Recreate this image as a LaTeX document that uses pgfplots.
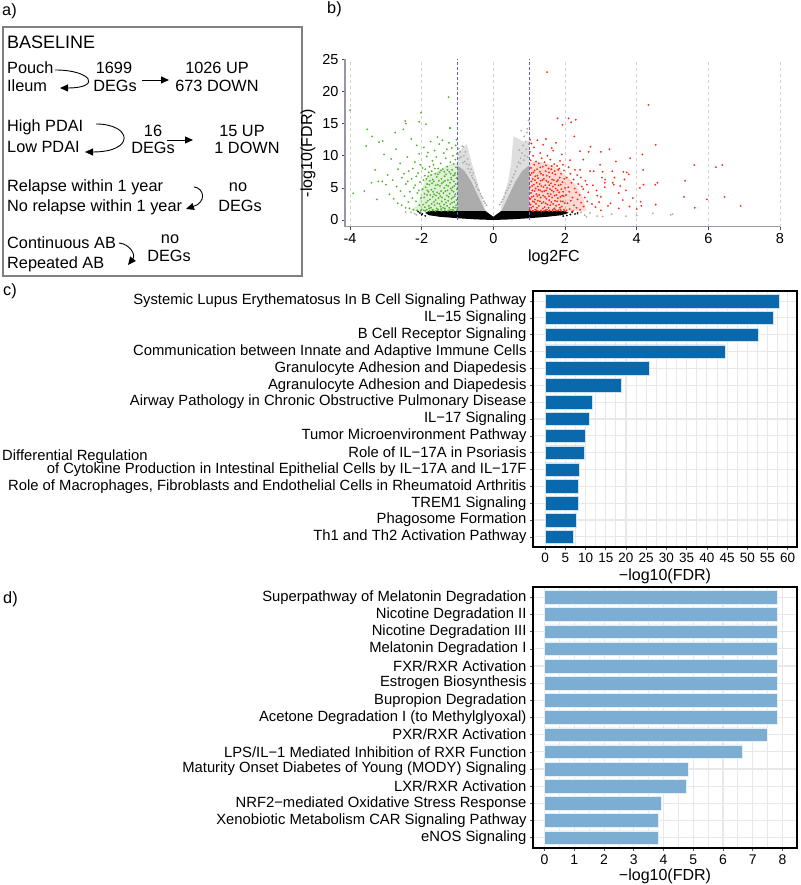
\documentclass[border=0pt]{standalone}
\usepackage{fontspec}
\setmainfont{Liberation Sans}
\usepackage{pgfplots}
\pgfplotsset{compat=1.18}
\usetikzlibrary{arrows.meta}
\definecolor{barC}{RGB}{10,104,172}
\definecolor{barD}{RGB}{124,174,212}
\definecolor{gridc}{RGB}{232,232,232}
\definecolor{vgreen}{RGB}{80,176,40}
\definecolor{vred}{RGB}{245,40,15}
\definecolor{vgrey}{RGB}{172,172,172}
\definecolor{vblue}{RGB}{100,100,200}
\definecolor{axgrey}{RGB}{150,150,165}
\newcommand\fs[1]{\fontsize{#1}{#1}\selectfont}
\pgfplotsset{dots/.style={only marks, mark=*, mark size=0.8pt, line width=0.2pt, color=#1, mark options={solid, draw=#1, fill=#1}}}
\begin{document}
\begin{tikzpicture}[x=1pt,y=1pt]
\useasboundingbox (0,0) rectangle (800,885);
% ---------------- panel a
\begin{scope}[every node/.style={inner sep=0pt, text height=0.72em, text depth=0pt, font=\fs{16.3}}]
\node[anchor=west] at (2,873) {a)};
\node[anchor=west] at (327,875) {b)};
\node[anchor=west] at (3,593) {c)};
\node[anchor=west] at (3,285) {d)};
\draw[gray, line width=1.2pt] (3,858) rectangle (302,609);
\node[anchor=west,font=\fs{18}] at (7,840) {BASELINE};
\node[anchor=west] at (7,815) {Pouch};
\node[anchor=west] at (7,797) {Ileum};
\node at (114,815) {1699};
\node at (115,797) {DEGs};
\node at (217,815) {1026 UP};
\node at (217,797) {673 DOWN};
\node[anchor=west] at (7,757) {High PDAI};
\node[anchor=west] at (7,736) {Low PDAI};
\node at (153,752) {16};
\node at (153,735) {DEGs};
\node at (242,752) {15 UP};
\node at (247,735) {1 DOWN};
\node[anchor=west] at (7,697) {Relapse within 1 year};
\node[anchor=west] at (7,677) {No relapse within 1 year};
\node at (238,697) {no};
\node at (240,677) {DEGs};
\node[anchor=west] at (7,640) {Continuous AB};
\node[anchor=west] at (7,620) {Repeated AB};
\node at (170,645) {no};
\node at (169,627) {DEGs};
\node[anchor=west,font=\fs{14.8}] at (2,428.5) {Differential Regulation};
\end{scope}
\begin{scope}[line width=0.9pt, >={Triangle[length=8pt,width=7pt]}]
\draw[->] (55,815) .. controls (92,815) and (102,797) .. (60,797);
\draw[->] (142,805) -- (169,805);
\draw[->] (96,761) .. controls (132,761) and (136,733) .. (85,733);
\draw[->] (167,745) -- (193,745);
\draw[->] (194,698) .. controls (204,697) and (207,683) .. (186,676);
\draw[->] (119,642) .. controls (130,641) and (136,630) .. (128,620);
\end{scope}
% ---------------- panel b
\begin{axis}[at={(345pt,658.3pt)}, anchor=south west, scale only axis,
  width=435pt, height=167.4pt,
  xmin=-4.14, xmax=8, ymin=-1.04, ymax=25,
  axis x line*=bottom, axis y line*=left,
  axis line style={axgrey, line width=1.3pt, -},
  xtick={-4,-2,...,8}, ytick={0,5,...,25},
  tick align=outside, major tick length=3pt, tick style={black!70, line width=0.7pt},
  xmajorgrids, grid style={dashed, gray!35, line width=0.5pt},
  ticklabel style={font=\fs{14.5}}, /pgf/number format/assume math mode=true,
  xlabel={log2FC}, ylabel={-log10(FDR)}, label style={font=\fs{16}},
  xlabel style={at={(ticklabel cs:0.48)}}, ylabel style={at={(ticklabel cs:0.44)}}]
% density shading of the clouds
\addplot[fill=vgrey, fill opacity=0.4, draw=none] coordinates {(-1,1.3)(-1,10.5)(-0.85,11.2)(-0.74,11.8)(-0.6,8.8)(-0.46,6.2)(-0.28,2.6)(-0.2,1.3)} -- cycle;
\addplot[fill=vgrey, fill opacity=0.4, draw=none] coordinates {(0.2,1.3)(0.23,2.6)(0.42,6.2)(0.5,9.0)(0.56,13.0)(0.75,12.5)(0.9,12.0)(1,12.5)(1,1.3)} -- cycle;
\addplot[fill=vgrey, draw=none] coordinates {(-1,1.3)(-1,8.5)(-0.8,7.6)(-0.62,6.0)(-0.5,4.6)(-0.38,3.2)(-0.28,2.0)(-0.22,1.3)} -- cycle;
\addplot[fill=vgrey, draw=none] coordinates {(0.22,1.3)(0.28,2.0)(0.38,3.2)(0.5,4.6)(0.62,6.0)(0.8,7.6)(1,8.5)(1,1.3)} -- cycle;
\addplot[fill=vgreen, fill opacity=0.18, draw=none] coordinates {(-1,1.4)(-1,9)(-1.3,8.5)(-1.6,7.5)(-1.9,6.5)(-2.0,4.5)(-2.1,2.5)(-2.3,1.4)} -- cycle;
\addplot[fill=vred, fill opacity=0.18, draw=none] coordinates {(1,1.4)(1,9)(1.4,9)(1.8,8)(2.0,7)(2.3,5.5)(2.5,3.5)(2.6,1.4)} -- cycle;
\addplot[fill=black, draw=none] coordinates {(-1.8,1.4)(-0.22,1.4)(0,0.5)(0.22,1.4)(2.0,1.4)(2.1,1.1)(1.9,0.75)(1.5,0.5)(1.0,0.28)(0.5,0.1)(0,0)(-0.5,0.1)(-1.0,0.28)(-1.5,0.5)(-1.8,0.75)(-1.9,1.1)} -- cycle;
\addplot[dots=vgrey] coordinates {
(-0.99,10.2)(-0.97,11.1)(-0.93,10.6)(-0.9,9.8)(-0.87,11.5)(-0.84,11.4)(-0.82,10.0)(-0.8,9.1)(-0.78,10.6)(-0.75,8.7)(-0.72,9.5)(-0.7,8.0)(-0.68,8.6)(-0.65,7.4)(-0.62,7.9)(-0.6,6.9)(-0.56,7.3)(-0.53,6.2)(-0.5,5.8)(-0.46,5.5)(-0.43,4.8)(-0.4,4.6)(-0.36,4.1)(-0.33,3.7)(-0.3,3.4)(-0.26,2.9)(-0.23,2.6)(-0.19,2.3)(-0.95,9.6)(-0.85,8.9)(-0.58,6.5)(-0.48,5.2)
(0.18,2.4)(0.22,2.8)(0.26,3.2)(0.3,3.6)(0.34,4.2)(0.38,4.6)(0.42,5.0)(0.46,5.5)(0.5,6.0)(0.54,6.6)(0.58,7.1)(0.62,7.6)(0.66,8.3)(0.7,9.0)(0.72,10.9)(0.76,9.6)(0.78,13.9)(0.8,10.4)(0.83,11.6)(0.86,13.0)(0.88,10.0)(0.9,12.2)(0.92,11.0)(0.94,13.6)(0.96,9.8)(0.98,15.5)(0.99,11.8)(0.95,14.2)(0.85,9.3)(0.75,8.8)
(-2.2,1.0)(-2.15,0.8)(-2.3,1.2)(-2.45,1.25)(2.35,0.9)(2.45,1.2)(2.55,0.75)(2.7,1.1)(2.9,0.6)(3.05,0.55)(3.3,0.9)(3.7,0.6)(4.0,0.7)(4.45,1.05)(4.95,0.8)(5.0,0.9)(2.2,1.15)(2.6,0.5)};
\addplot[dots=black] coordinates {
(-2.05,1.1)(-1.98,0.95)(2.2,1.25)(2.28,0.95)(2.35,1.1)(-1.9,0.65)(1.95,0.6)(-2.0,0.8)(2.15,0.85)(-2.1,1.3)(2.05,0.7)};
\addplot[dots=vgreen] coordinates {
(-1.02,1.5)(-1.04,2.3)(-1.03,3.1)(-1.06,4.0)(-1.02,4.8)(-1.05,5.6)(-1.03,6.5)(-1.07,7.3)(-1.04,8.2)(-1.06,9.4)(-1.02,10.3)(-1.05,11.6)(-1.03,12.5)
(-1.10,1.4)(-1.12,2.0)(-1.09,2.8)(-1.13,3.5)(-1.11,4.4)(-1.14,5.1)(-1.10,6.0)(-1.12,6.9)(-1.15,7.8)(-1.11,8.7)(-1.13,10.0)(-1.16,11.2)
(-1.18,1.6)(-1.20,2.5)(-1.17,3.3)(-1.22,4.1)(-1.19,4.9)(-1.21,5.8)(-1.18,6.6)(-1.23,7.5)(-1.20,9.0)(-1.24,12.0)(-1.21,14.3)
(-1.27,1.4)(-1.29,2.2)(-1.26,3.0)(-1.30,3.8)(-1.28,4.6)(-1.31,5.4)(-1.27,6.2)(-1.32,7.1)(-1.29,8.3)(-1.33,9.6)(-1.30,11.0)
(-1.36,1.5)(-1.38,2.4)(-1.35,3.2)(-1.39,4.2)(-1.37,5.0)(-1.40,5.9)(-1.36,6.8)(-1.41,7.9)(-1.38,10.4)(-1.42,12.4)
(-1.45,1.4)(-1.47,2.1)(-1.44,2.9)(-1.48,3.7)(-1.46,4.5)(-1.49,5.3)(-1.45,6.4)(-1.50,7.4)(-1.47,8.8)(-1.51,11.8)
(-1.54,1.6)(-1.56,2.6)(-1.53,3.4)(-1.57,4.3)(-1.55,5.5)(-1.58,6.7)(-1.54,8.0)(-1.59,9.8)(-1.56,12.9)
(-1.62,1.4)(-1.64,2.3)(-1.61,3.1)(-1.65,4.0)(-1.63,4.9)(-1.66,6.0)(-1.62,7.2)(-1.67,8.6)(-1.64,10.8)
(-1.70,1.5)(-1.72,2.5)(-1.69,3.6)(-1.73,4.7)(-1.71,5.7)(-1.74,7.0)(-1.70,9.2)(-1.75,12.2)
(-1.78,1.4)(-1.80,2.2)(-1.77,3.2)(-1.81,4.4)(-1.79,5.5)(-1.82,6.8)(-1.78,8.3)(-1.83,10.5)
(-1.86,1.6)(-1.88,2.7)(-1.85,3.9)(-1.89,5.1)(-1.87,6.4)(-1.90,7.9)(-1.86,9.9)
(-1.94,1.5)(-1.96,2.4)(-1.93,3.5)(-1.97,4.8)(-1.95,6.2)(-1.98,8.1)(-1.94,11.3)
(-1.07,1.9)(-1.15,2.7)(-1.23,1.9)(-1.32,2.7)(-1.40,1.9)(-1.50,2.5)(-1.58,1.8)(-1.66,2.8)(-1.74,1.9)(-1.83,3.0)(-1.91,2.0)
(-1.08,3.7)(-1.16,4.6)(-1.25,3.6)(-1.34,4.5)(-1.43,3.5)(-1.51,4.1)(-1.60,3.8)(-1.68,4.4)(-1.76,3.9)(-1.84,4.6)(-1.92,4.1)
(-1.09,5.3)(-1.17,6.3)(-1.26,5.3)(-1.35,6.1)(-1.44,5.7)(-1.52,6.1)(-1.61,5.4)(-1.69,6.3)(-1.77,6.1)(-1.85,5.6)
(-1.08,7.0)(-1.19,7.2)(-1.28,7.8)(-1.37,7.5)(-1.46,7.7)(-1.55,7.1)(-1.63,8.0)(-1.72,7.6)(-1.80,7.4)(-1.91,6.9)
(-1.01,1.9)(-1.13,1.6)(-1.24,1.5)(-1.35,1.8)(-1.46,1.7)(-1.57,1.5)(-1.68,1.6)(-1.79,1.8)(-1.90,1.4)(-2.0,1.6)
(-2.03,1.4)(-2.06,2.3)(-2.02,3.4)(-2.08,4.6)(-2.05,5.9)(-2.10,7.3)(-2.04,8.6)(-2.07,10.3)(-2.02,16.7)(-2.07,15.3)
(-2.13,1.5)(-2.16,2.9)(-2.12,4.2)(-2.18,5.4)(-2.15,6.8)(-2.19,9.0)(-2.14,11.6)
(-2.23,1.6)(-2.26,3.4)(-2.22,5.0)(-2.28,6.4)(-2.25,8.0)(-2.29,12.6)
(-2.34,1.8)(-2.37,2.8)(-2.33,4.4)(-2.39,6.0)(-2.36,7.6)(-2.40,9.8)
(-2.45,1.9)(-2.48,3.7)(-2.44,5.6)(-2.49,7.2)(-2.46,15.4)(-2.44,15.0)(-2.51,14.1)
(-2.56,2.3)(-2.59,4.5)(-2.55,6.6)(-2.60,8.8)
(-2.67,2.6)(-2.70,5.2)(-2.66,7.9)(-2.74,13.6)(-2.72,11.0)
(-2.78,3.3)(-2.81,6.2)(-2.85,9.5)(-2.9,4.0)(-2.95,7.0)(-3.0,5.5)(-3.05,10.2)(-3.09,12.3)(-3.19,12.1)
(-3.1,6.0)(-3.21,6.0)(-3.3,7.8)(-3.38,13.0)(-3.52,14.1)(-3.55,11.5)(-3.4,5.8)(-3.25,3.2)(-3.6,4.5)(-3.91,4.15)(-4.0,17.1)(-1.25,19.1)(-1.21,14.3)(-1.88,14.9)};
\addplot[dots=vred] coordinates {
(1.02,1.5)(1.04,2.4)(1.03,3.3)(1.05,4.2)(1.02,5.1)(1.06,6.0)(1.03,7.0)(1.05,8.1)(1.04,9.3)(1.02,10.6)(1.06,11.9)(1.03,12.5)
(1.09,1.4)(1.11,2.1)(1.10,2.9)(1.12,3.7)(1.09,4.6)(1.13,5.5)(1.10,6.4)(1.12,7.4)(1.14,8.6)(1.11,10.0)(1.13,11.3)
(1.17,1.6)(1.19,2.5)(1.16,3.2)(1.20,4.0)(1.18,4.9)(1.21,5.8)(1.17,6.8)(1.22,7.9)(1.19,9.1)(1.23,12.4)
(1.25,1.4)(1.27,2.2)(1.24,3.0)(1.28,3.9)(1.26,4.7)(1.29,5.6)(1.25,6.5)(1.30,7.5)(1.27,8.8)(1.31,10.4)
(1.33,1.5)(1.35,2.6)(1.32,3.5)(1.36,4.4)(1.34,5.3)(1.37,6.2)(1.33,7.2)(1.38,8.3)(1.35,9.6)(1.39,11.7)
(1.41,1.4)(1.43,2.0)(1.40,2.8)(1.44,3.6)(1.42,4.5)(1.45,5.4)(1.41,6.4)(1.46,7.6)(1.43,9.0)(1.47,12.6)
(1.49,1.6)(1.51,2.4)(1.48,3.3)(1.52,4.1)(1.50,5.0)(1.53,5.9)(1.49,6.9)(1.54,8.0)(1.51,10.0)(1.50,23.0)
(1.57,1.5)(1.59,2.3)(1.56,3.1)(1.60,4.0)(1.58,4.8)(1.61,5.7)(1.57,6.7)(1.62,7.9)(1.59,9.4)(1.63,11.2)
(1.65,1.4)(1.67,2.5)(1.64,3.5)(1.68,4.4)(1.66,5.2)(1.69,6.2)(1.65,7.3)(1.70,8.7)(1.67,10.8)
(1.73,1.6)(1.75,2.2)(1.72,3.0)(1.76,3.9)(1.74,4.9)(1.77,6.0)(1.73,7.1)(1.78,8.4)(1.75,12.0)(1.79,15.8)
(1.81,1.5)(1.83,2.4)(1.80,3.4)(1.84,4.3)(1.82,5.4)(1.85,6.6)(1.81,7.8)(1.86,9.2)
(1.89,1.4)(1.91,2.1)(1.88,2.9)(1.92,3.8)(1.90,4.8)(1.93,5.9)(1.89,7.2)(1.94,8.6)(1.91,10.2)(1.93,14.8)
(1.97,1.6)(1.99,2.6)(1.96,3.7)(2.00,5.0)(1.98,6.4)(1.97,7.7)
(1.06,1.9)(1.14,2.8)(1.22,1.9)(1.30,2.9)(1.38,1.8)(1.46,2.6)(1.54,1.9)(1.62,2.8)(1.70,1.8)(1.78,2.9)(1.86,1.9)(1.94,2.9)
(1.07,3.6)(1.15,4.5)(1.23,3.7)(1.31,4.6)(1.39,3.8)(1.47,4.6)(1.55,3.7)(1.63,4.6)(1.71,3.8)(1.79,4.6)(1.87,3.6)(1.95,4.4)
(1.08,5.3)(1.16,6.2)(1.24,5.2)(1.32,6.1)(1.40,5.1)(1.48,6.1)(1.56,5.4)(1.64,6.3)(1.72,5.5)(1.80,6.2)(1.88,5.5)
(1.07,7.3)(1.15,7.7)(1.23,6.9)(1.31,8.2)(1.39,7.0)(1.47,8.5)(1.55,7.4)(1.63,8.4)(1.71,7.6)(1.84,8.0)
(1.01,1.6)(1.12,1.4)(1.21,1.5)(1.34,1.3)(1.45,1.5)(1.55,1.4)(1.66,1.6)(1.77,1.4)(1.87,1.6)(1.98,1.4)
(2.04,1.5)(2.07,2.6)(2.03,3.9)(2.09,5.1)(2.05,6.6)(2.10,8.2)(2.14,9.3)(2.10,15.8)(2.17,15.2)(2.30,15.6)(2.26,13.0)
(2.13,1.7)(2.16,3.0)(2.12,4.4)(2.18,5.8)(2.15,7.2)
(2.22,1.4)(2.25,2.3)(2.21,3.5)(2.27,4.9)(2.24,6.3)(2.28,7.8)
(2.32,1.9)(2.35,3.2)(2.31,4.3)(2.37,5.6)(2.34,7.0)(2.42,10.7)(2.42,7.8)(2.51,9.4)
(2.42,1.6)(2.45,2.7)(2.41,3.9)(2.47,5.2)(2.44,6.6)
(2.52,2.1)(2.55,3.5)(2.51,4.8)(2.57,6.1)(2.62,2.9)(2.65,4.3)(2.61,5.5)(2.66,10.6)(2.71,11.4)(2.7,7.6)(2.8,7.6)(2.88,4.6)(2.9,3.8)(3.0,3.6)(2.98,8.6)(3.0,10.6)(3.05,7.5)(3.03,6.6)(3.12,6.3)(3.11,5.8)(3.11,5.1)(2.75,2.5)(2.85,2.0)(2.78,5.4)(2.95,2.8)(3.2,2.2)(3.24,11.0)
(3.27,2.6)(3.32,7.6)(3.33,5.8)(3.36,5.5)(3.38,6.6)(3.42,9.1)(3.54,5.3)(3.61,3.1)(3.63,7.5)(3.66,6.3)(3.72,7.4)(3.78,7.1)(3.80,2.1)(3.82,9.6)(3.89,3.4)(3.5,4.2)(3.7,4.6)(4.09,5.0)(4.11,2.85)(4.13,2.2)(4.16,10.2)(4.18,7.8)(4.19,5.5)(4.33,17.9)(4.53,11.7)(4.52,5.5)(4.58,5.8)(4.53,2.4)(5.61,8.55)(6.21,8.2)(6.39,8.55)(5.35,6.1)(5.32,3.6)(5.96,3.2)(6.45,3.6)(5.62,1.9)(6.9,2.2)(4.0,1.7)(3.5,1.8)(3.0,1.5)};
\addplot[vblue, densely dashed, line width=0.6pt] coordinates {(-1,0)(-1,25)};
\addplot[vblue, densely dashed, line width=0.6pt] coordinates {(1,0)(1,25)};
\end{axis}
% ---------------- panel c
\begin{axis}[at={(533pt,338pt)}, anchor=south west, scale only axis,
  width=264pt, height=256pt,
  xbar, bar width=0.8, xmin=-3, xmax=62.3, ymin=0.4, ymax=15.6,
  xtick={0,5,...,60}, minor x tick num=1, ytick={1,...,15},
  yticklabels={Th1 and Th2 Activation Pathway, Phagosome Formation, TREM1 Signaling,
    {Role of Macrophages, Fibroblasts and Endothelial Cells in Rheumatoid Arthritis},
    of Cytokine Production in Intestinal Epithelial Cells by IL−17A and IL−17F,
    Role of IL−17A in Psoriasis, Tumor Microenvironment Pathway, IL−17 Signaling,
    Airway Pathology in Chronic Obstructive Pulmonary Disease,
    Agranulocyte Adhesion and Diapedesis, Granulocyte Adhesion and Diapedesis,
    Communication between Innate and Adaptive Immune Cells, B Cell Receptor Signaling,
    IL−15 Signaling, Systemic Lupus Erythematosus In B Cell Signaling Pathway},
  xmajorgrids, xminorgrids, ymajorgrids,
  major grid style={gridc, line width=1.1pt}, minor grid style={gridc, line width=0.8pt},
  axis line style={black, line width=1.6pt},
  tick pos=left, tick align=outside, major tick length=3pt, minor tick length=0pt,
  tick style={gray!70!black, line width=0.6pt},
  xticklabel style={font=\fs{13.5}}, yticklabel style={font=\fs{14.8}},
  /pgf/number format/assume math mode=true,
  xlabel={−log10(FDR)}, xlabel style={font=\fs{16}, yshift=1pt}]
\addplot[fill=barC, draw=white!80!barC, line width=0.5pt] coordinates {
(7.0,1)(7.8,2)(8.2,3)(8.2,4)(8.5,5)(9.65,6)(9.9,7)(11.0,8)(11.6,9)(18.8,10)(25.8,11)(44.6,12)(52.8,13)(56.4,14)(57.8,15)};
\end{axis}
% ---------------- panel d
\begin{axis}[at={(533pt,37pt)}, anchor=south west, scale only axis,
  width=264pt, height=261pt,
  xbar, bar width=0.8, xmin=-0.39, xmax=8.49, ymin=0.4, ymax=15.6,
  xtick={0,...,8}, minor x tick num=1, ytick={1,...,15},
  yticklabels={eNOS Signaling, Xenobiotic Metabolism CAR Signaling Pathway,
    NRF2−mediated Oxidative Stress Response, LXR/RXR Activation,
    Maturity Onset Diabetes of Young (MODY) Signaling,
    LPS/IL−1 Mediated Inhibition of RXR Function, PXR/RXR Activation,
    Acetone Degradation I (to Methylglyoxal), Bupropion Degradation,
    Estrogen Biosynthesis, FXR/RXR Activation, Melatonin Degradation I,
    Nicotine Degradation III, Nicotine Degradation II,
    Superpathway of Melatonin Degradation},
  xmajorgrids, xminorgrids, ymajorgrids,
  major grid style={gridc, line width=1.1pt}, minor grid style={gridc, line width=0.8pt},
  axis line style={black, line width=1.6pt},
  tick pos=left, tick align=outside, major tick length=3pt, minor tick length=0pt,
  tick style={gray!70!black, line width=0.6pt},
  xticklabel style={font=\fs{14}}, yticklabel style={font=\fs{14.8}},
  /pgf/number format/assume math mode=true,
  xlabel={−log10(FDR)}, xlabel style={font=\fs{16}, yshift=2pt}]
\addplot[fill=barD, draw=white!80!barD, line width=0.5pt] coordinates {
(3.81,1)(3.81,2)(3.92,3)(4.76,4)(4.83,5)(6.66,6)(7.48,7)(7.81,8)(7.81,9)(7.81,10)(7.81,11)(7.81,12)(7.81,13)(7.84,14)(7.84,15)};
\end{axis}
\end{tikzpicture}
\end{document}
